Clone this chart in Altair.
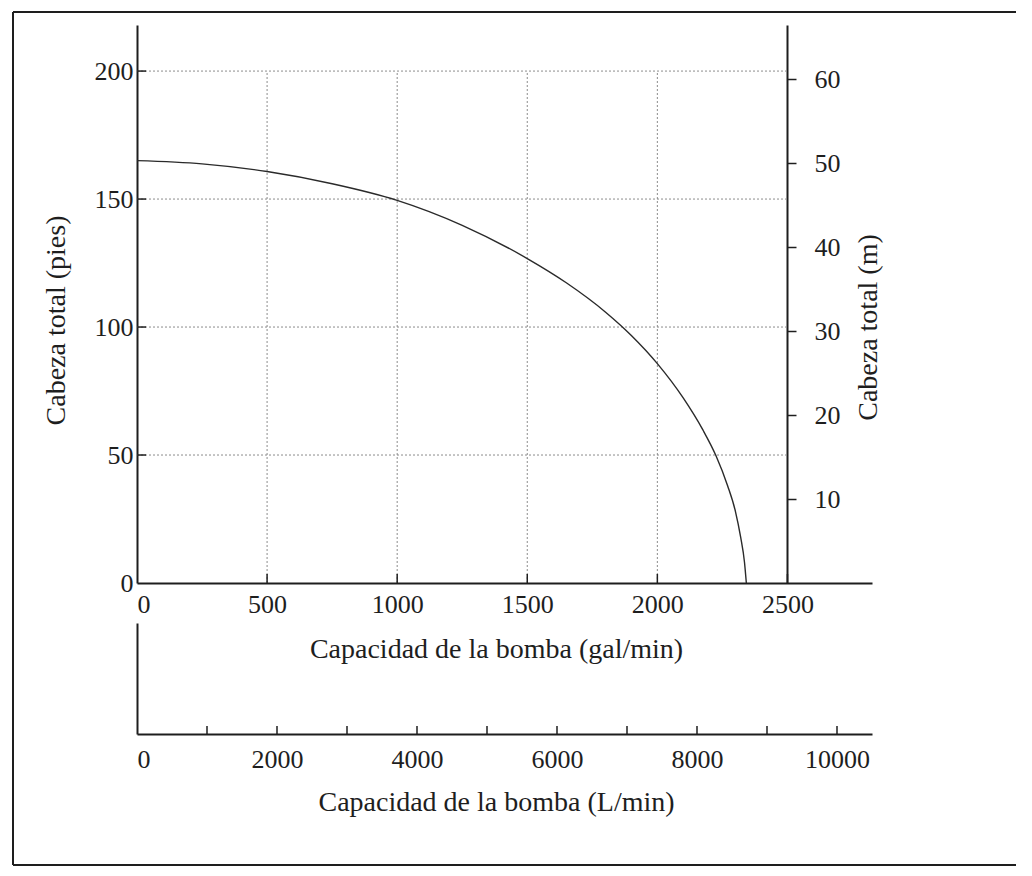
import altair as alt
import pandas as pd

# ---------------- data ----------------
flow_gpm = [0, 250, 500, 750, 1000, 1250, 1500, 1650, 1800, 1900, 2000, 2100, 2175, 2225, 2270, 2300, 2320, 2335, 2342]
head_ft = [165, 163.75, 160.75, 156, 149.5, 139.75, 126.75, 117.3, 105.9, 96.7, 85.7, 72.2, 59.8, 49.8, 38, 28, 18, 8, 0]

gal_ticks = [0, 500, 1000, 1500, 2000, 2500]
ft_ticks = [0, 50, 100, 150, 200]
m_ticks = [10, 20, 30, 40, 50, 60]
lmin_labels = [0, 2000, 4000, 6000, 8000, 10000]
lmin_minor = [1000, 2000, 3000, 4000, 5000, 6000, 7000, 8000, 9000, 10000]

FT_PER_M = 3.2808

# ---------------- styling ----------------
FONT = "Liberation Serif"
INK = "#1e1e1e"
GRID = "#8c8c8c"
W, H = 735, 558
H2 = 111
X_MAX = 2825
Y_MAX = 218
L_MAX = 10500

xscale = alt.Scale(domain=[0, X_MAX], nice=False, zero=True)
yscale = alt.Scale(domain=[0, Y_MAX], nice=False, zero=True)

x_axis = alt.Axis(values=gal_ticks, title="Capacidad de la bomba (gal/min)", ticks=False,
                  grid=False, labelPadding=8, titlePadding=18, titleX=359, format="d")
y_axis = alt.Axis(values=ft_ticks, title="Cabeza total (pies)", ticks=False, grid=False,
                  labelPadding=4, titlePadding=24, titleY=295, format="d")


def X(field):
    return alt.X(f"{field}:Q", scale=xscale, axis=x_axis)


def Y(field):
    return alt.Y(f"{field}:Q", scale=yscale, axis=y_axis)


# main plot layers
vgrid_df = pd.DataFrame({"gx": gal_ticks[1:-1], "y0": ft_ticks[0], "y1": ft_ticks[-1]})
hgrid_df = pd.DataFrame({"gy": ft_ticks[1:], "x0": gal_ticks[0], "x1": gal_ticks[-1]})
xt_df = pd.DataFrame({"t": gal_ticks[1:]})
yt_df = pd.DataFrame({"t": ft_ticks[1:]})
curve_df = pd.DataFrame({"q": flow_gpm, "h": head_ft})
one = pd.DataFrame({"k": [0]})

vgrid = alt.Chart(vgrid_df).mark_rule(color=GRID, strokeDash=[2, 2], strokeWidth=1).encode(
    x=X("gx"), y=Y("y0"), y2="y1:Q")
hgrid = alt.Chart(hgrid_df).mark_rule(color=GRID, strokeDash=[2, 2], strokeWidth=1).encode(
    x=X("x0"), x2="x1:Q", y=Y("gy"))
xticks = alt.Chart(xt_df).mark_rule(color=INK, strokeWidth=1.5).encode(
    x=X("t"), y=alt.value(H - 9), y2=alt.value(H))
yticks = alt.Chart(yt_df).mark_rule(color=INK, strokeWidth=1.5).encode(
    y=Y("t"), x=alt.value(0), x2=alt.value(9))
curve = alt.Chart(curve_df).mark_line(color="#2a2a2a", strokeWidth=1.4, interpolate="monotone").encode(
    x=X("q"), y=Y("h"))

# scanned page frame (decoration)
FL, FR, FT, FB = -124, 879, -13, 840
frame_top = alt.Chart(one).mark_rule(color=INK, strokeWidth=2).encode(
    x=alt.value(FL), x2=alt.value(FR), y=alt.value(FT))
frame_left = alt.Chart(one).mark_rule(color=INK, strokeWidth=2).encode(
    x=alt.value(FL), y=alt.value(FT), y2=alt.value(FB))
frame_bottom = alt.Chart(one).mark_rule(color=INK, strokeWidth=2).encode(
    x=alt.value(FL), x2=alt.value(FR), y=alt.value(FB))

inner = alt.layer(vgrid, hgrid, xticks, yticks, curve, frame_top, frame_left, frame_bottom)

m_df = pd.DataFrame({"m": m_ticks})
right = alt.Chart(m_df).mark_point(opacity=0).encode(
    y=alt.Y("m:Q", scale=alt.Scale(domain=[0, Y_MAX / FT_PER_M], nice=False, zero=True),
            axis=alt.Axis(orient="right", values=m_ticks, title="Cabeza total (m)", offset=-85,
                          ticks=True, tickSize=9, tickWidth=1.5, tickColor=INK, grid=False,
                          labelPadding=18, titlePadding=14, titleAngle=270, titleBaseline="top",
                          titleY=302, format="d")))

main = alt.layer(inner, right).resolve_scale(y="independent").properties(width=W, height=H)

# secondary (L/min) axis strip
lt_df = pd.DataFrame({"L": lmin_minor})
lticks = alt.Chart(lt_df).mark_rule(color=INK, strokeWidth=1.5).encode(
    x=alt.X("L:Q", scale=alt.Scale(domain=[0, L_MAX], nice=False, zero=True),
            axis=alt.Axis(values=lmin_labels, title="Capacidad de la bomba (L/min)", ticks=False,
                          grid=False, labelPadding=12, titlePadding=16, titleX=359, format="d")),
    y=alt.value(H2 - 8), y2=alt.value(H2))
yline = alt.Chart(pd.DataFrame({"v": [0]})).mark_point(opacity=0).encode(
    y=alt.Y("v:Q", scale=alt.Scale(domain=[0, 1]),
            axis=alt.Axis(domain=True, ticks=False, labels=False, grid=False, title=None)))
lower = alt.layer(lticks, yline).properties(width=W, height=H2)

chart = alt.vconcat(main, lower, spacing=40, bounds="flush").properties(
    padding={"left": 4, "top": 3, "right": 0, "bottom": 0}, background="white"
).configure_view(stroke=None).configure_axis(
    labelFont=FONT, titleFont=FONT, labelFontSize=26, titleFontSize=28,
    labelColor=INK, titleColor=INK, titleFontWeight="normal",
    domainColor=INK, domainWidth=2,
)

chart.save("out.html", embed_options={"renderer": "svg", "actions": False})
